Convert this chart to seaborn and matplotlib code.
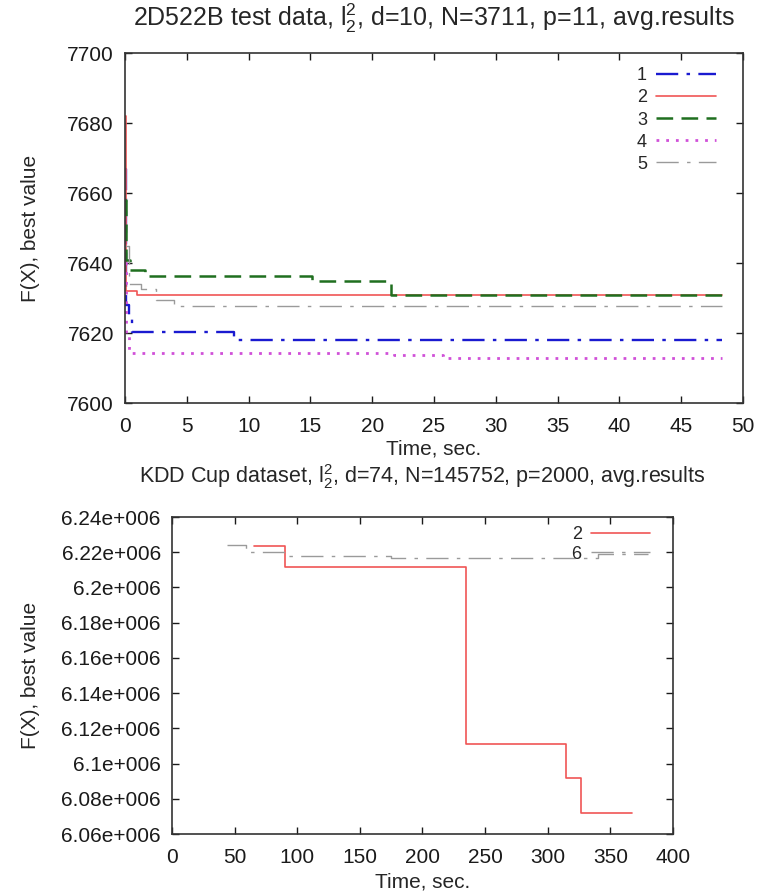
import matplotlib
matplotlib.use('Agg')
import matplotlib.pyplot as plt
import matplotlib.ticker as mticker
import pandas as pd
import seaborn as sns

# top chart: 2D522B test data, best value over time (step curves)
t1 = [0, 0.08, 0.35, 0.6, 8.8, 48.3]
f1 = [7667, 7628, 7625, 7620.2, 7618.1, 7618.1]
t2 = [0, 0.1, 1.0, 48.3]
f2 = [7682, 7632, 7631, 7631]
t3 = [0, 0.1, 0.4, 1.6, 15.1, 21.5, 48.3]
f3 = [7658, 7641, 7637.9, 7636.4, 7635.0, 7630.8, 7630.8]
t4 = [0, 0.1, 0.3, 21.8, 25.7, 48.3]
f4 = [7640, 7620, 7614.3, 7613.8, 7613.0, 7613.0]
t5 = [0, 0.3, 1.3, 2.5, 4.0, 48.3]
f5 = [7645, 7634, 7632.6, 7629.5, 7627.8, 7627.8]

# bottom chart: KDD Cup dataset
k2_t = [65.6, 90.6, 235, 315, 326.6, 367]
k2_f = [6.2234e6, 6.2115e6, 6.1113e6, 6.0920e6, 6.0720e6, 6.0720e6]
k6_t = [43.75, 59, 92, 175, 340, 380]
k6_f = [6.2240e6, 6.2200e6, 6.2181e6, 6.2168e6, 6.2190e6, 6.2190e6]

sns.set_theme(style='ticks')
plt.rcParams['font.family'] = ['Liberation Sans', 'DejaVu Sans']
plt.rcParams['mathtext.default'] = 'regular'
plt.rcParams['lines.scale_dashes'] = False

FS = 15
dashdot = (0, (16, 6, 2.5, 6))
styles = {
    '1': dict(color='#1a1ad0', lw=1.7, ls=dashdot),
    '2': dict(color='#f05555', lw=1.2, ls='-'),
    '3': dict(color='#1f6f1f', lw=1.8, ls=(0, (12, 6))),
    '4': dict(color='#d050d8', lw=2.0, ls=(0, (2, 5))),
    '5': dict(color='#9a9a9a', lw=1.0, ls=dashdot),
    '6': dict(color='#9a9a9a', lw=1.0, ls=dashdot),
}


def step_line(ax, t, f, name):
    df = pd.DataFrame({'t': t, 'f': f})
    st = styles[name]
    sns.lineplot(data=df, x='t', y='f', ax=ax, estimator=None, sort=False,
                 drawstyle='steps-post', color=st['color'], linewidth=st['lw'],
                 linestyle=st['ls'], label=name)


def style_axes(ax):
    ax.tick_params(direction='in', top=True, right=True, length=5, width=1,
                   labelsize=FS, colors='#1a1a1a', pad=8)
    ax.tick_params(axis='x', pad=10)
    for sp in ax.spines.values():
        sp.set_visible(True)
        sp.set_color('#333333')
        sp.set_linewidth(1.2)


fig = plt.figure(figsize=(7.61, 8.94), dpi=100)
ax1 = fig.add_axes([0.1643, 0.5492, 0.8121, 0.3915])
ax2 = fig.add_axes([0.2260, 0.0671, 0.6583, 0.3546])

for t, f, n in [(t1, f1, '1'), (t2, f2, '2'), (t3, f3, '3'), (t4, f4, '4'), (t5, f5, '5')]:
    step_line(ax1, t, f, n)
ax1.set_xlim(0, 50)
ax1.set_ylim(7600, 7700)
ax1.set_xticks(range(0, 51, 5))
ax1.set_yticks(range(7600, 7701, 20))
style_axes(ax1)
ax1.set_xlabel('Time, sec.', fontsize=FS)
ax1.set_ylabel('F(X), best value', fontsize=FS)
ax1.xaxis.set_label_coords(0.5, -0.104)
ax1.yaxis.set_label_coords(-0.1375, 0.5)
ax1.text(0.5, 1.1, r'2D522B test data, l$_2^2$, d=10, N=3711, p=11, avg.results',
         transform=ax1.transAxes, ha='center', va='center', fontsize=18)
ax1.legend(loc='upper right', bbox_to_anchor=(0.976, 0.995), frameon=False,
           markerfirst=False, fontsize=13, handlelength=3.3, labelspacing=0.28,
           handletextpad=0.5, borderpad=0.2)

step_line(ax2, k2_t, k2_f, '2')
step_line(ax2, k6_t, k6_f, '6')
ax2.set_xlim(0, 400)
ax2.set_ylim(6.06e6, 6.24e6)
ax2.set_xticks(range(0, 401, 50))
ax2.set_yticks([6.06e6 + i * 0.02e6 for i in range(10)])
ax2.yaxis.set_major_formatter(mticker.FuncFormatter(lambda v, p: '{:g}e+006'.format(round(v / 1e6, 2))))
style_axes(ax2)
ax2.set_xlabel('Time, sec.', fontsize=FS)
ax2.set_ylabel('F(X), best value', fontsize=FS)
ax2.xaxis.set_label_coords(0.5, -0.12)
ax2.yaxis.set_label_coords(-0.263, 0.5)
ax2.text(0.5, 1.128, r'KDD Cup dataset, l$_2^2$, d=74, N=145752, p=2000, avg.results',
         transform=ax2.transAxes, ha='center', va='center', fontsize=15.5)
ax2.legend(loc='upper right', bbox_to_anchor=(0.98, 1.012), frameon=False,
           markerfirst=False, fontsize=13, handlelength=3.3, labelspacing=0.15,
           handletextpad=0.5, borderpad=0.2)

fig.savefig('out.png', dpi=100)
